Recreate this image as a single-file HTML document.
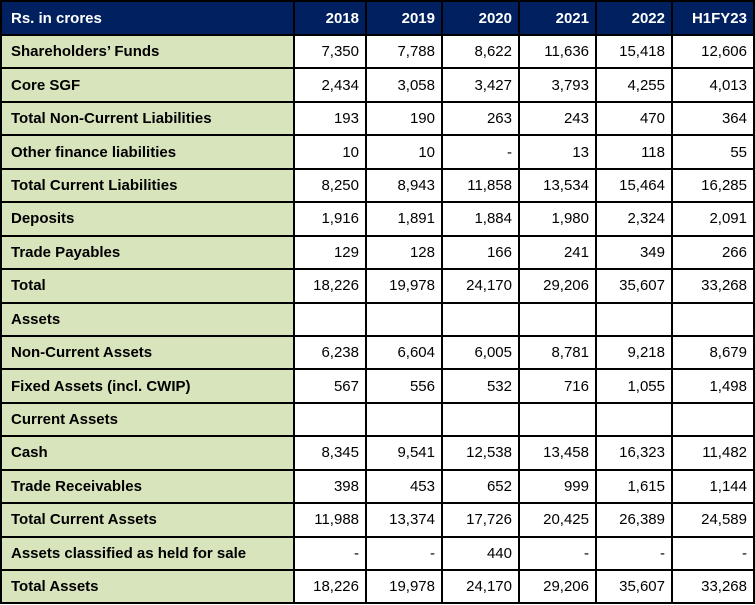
<!DOCTYPE html>
<html><head><meta charset="utf-8"><style>
body{margin:0;background:#fff;}
table{position:absolute;left:0;top:0;border-collapse:collapse;table-layout:fixed;width:753px;font-family:"Liberation Sans",Arial,sans-serif;font-size:15px;}
td{border:2px solid #000;height:31.45px;padding:0 6px;text-align:right;color:#000;white-space:nowrap;overflow:hidden;vertical-align:middle;box-sizing:border-box;}
tr{height:33.45px;}
td:first-child{text-align:left;background:#D8E4BC;font-weight:bold;padding-left:9px;}
tr.h{height:34px;}
tr.h td{background:#002060;color:#fff;font-weight:bold;}
</style></head><body>
<table>
<colgroup><col style="width:293px"><col style="width:72px"><col style="width:76px"><col style="width:77px"><col style="width:77px"><col style="width:76px"><col style="width:82px"></colgroup>
<tr class="h"><td>Rs. in crores</td><td>2018</td><td>2019</td><td>2020</td><td>2021</td><td>2022</td><td>H1FY23</td></tr>
<tr><td>Shareholders’ Funds</td><td>7,350</td><td>7,788</td><td>8,622</td><td>11,636</td><td>15,418</td><td>12,606</td></tr>
<tr><td>Core SGF</td><td>2,434</td><td>3,058</td><td>3,427</td><td>3,793</td><td>4,255</td><td>4,013</td></tr>
<tr><td>Total Non-Current Liabilities</td><td>193</td><td>190</td><td>263</td><td>243</td><td>470</td><td>364</td></tr>
<tr><td>Other finance liabilities</td><td>10</td><td>10</td><td>-</td><td>13</td><td>118</td><td>55</td></tr>
<tr><td>Total Current Liabilities</td><td>8,250</td><td>8,943</td><td>11,858</td><td>13,534</td><td>15,464</td><td>16,285</td></tr>
<tr><td>Deposits</td><td>1,916</td><td>1,891</td><td>1,884</td><td>1,980</td><td>2,324</td><td>2,091</td></tr>
<tr><td>Trade Payables</td><td>129</td><td>128</td><td>166</td><td>241</td><td>349</td><td>266</td></tr>
<tr><td>Total</td><td>18,226</td><td>19,978</td><td>24,170</td><td>29,206</td><td>35,607</td><td>33,268</td></tr>
<tr><td>Assets</td><td></td><td></td><td></td><td></td><td></td><td></td></tr>
<tr><td>Non-Current Assets</td><td>6,238</td><td>6,604</td><td>6,005</td><td>8,781</td><td>9,218</td><td>8,679</td></tr>
<tr><td>Fixed Assets (incl. CWIP)</td><td>567</td><td>556</td><td>532</td><td>716</td><td>1,055</td><td>1,498</td></tr>
<tr><td>Current Assets</td><td></td><td></td><td></td><td></td><td></td><td></td></tr>
<tr><td>Cash</td><td>8,345</td><td>9,541</td><td>12,538</td><td>13,458</td><td>16,323</td><td>11,482</td></tr>
<tr><td>Trade Receivables</td><td>398</td><td>453</td><td>652</td><td>999</td><td>1,615</td><td>1,144</td></tr>
<tr><td>Total Current Assets</td><td>11,988</td><td>13,374</td><td>17,726</td><td>20,425</td><td>26,389</td><td>24,589</td></tr>
<tr><td>Assets classified as held for sale</td><td>-</td><td>-</td><td>440</td><td>-</td><td>-</td><td>-</td></tr>
<tr><td>Total Assets</td><td>18,226</td><td>19,978</td><td>24,170</td><td>29,206</td><td>35,607</td><td>33,268</td></tr>
</table>
</body></html>
